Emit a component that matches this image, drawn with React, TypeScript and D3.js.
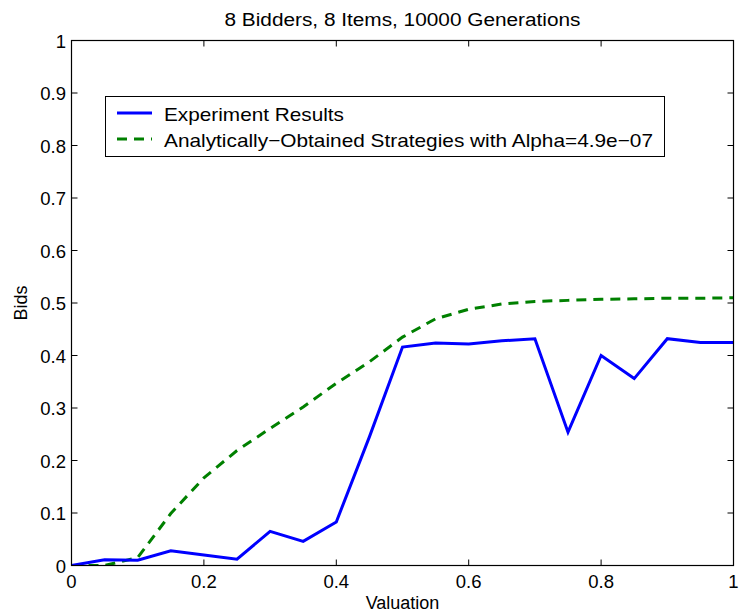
import React from "react";
import * as d3 from "d3";

const valuations = [0, 0.05, 0.1, 0.15, 0.2, 0.25, 0.3, 0.35, 0.4, 0.45, 0.5, 0.55, 0.6, 0.65, 0.7, 0.75, 0.8, 0.85, 0.9, 0.95, 1];
const experimentBids = [0, 0.011, 0.01, 0.028, 0.02, 0.012, 0.065, 0.046, 0.083, 0.245, 0.416, 0.424, 0.422, 0.428, 0.432, 0.254, 0.4, 0.356, 0.432, 0.425, 0.425];
const analyticBids = [0, 0, 0.015, 0.099, 0.167, 0.219, 0.261, 0.302, 0.347, 0.388, 0.435, 0.47, 0.488, 0.498, 0.503, 0.505, 0.507, 0.508, 0.509, 0.509, 0.51];
const xTicks = [0, 0.2, 0.4, 0.6, 0.8, 1];
const yTicks = [0, 0.1, 0.2, 0.3, 0.4, 0.5, 0.6, 0.7, 0.8, 0.9, 1];
const seriesNames = ["Experiment Results", "Analytically\u2212Obtained Strategies with Alpha=4.9e\u221207"];
const title = "8 Bidders, 8 Items, 10000 Generations";

export default function App() {
  const W = 740, H = 616;
  const L = 71.5, R = 733.5, T = 40.5, B = 565.5;
  const x = d3.scaleLinear().domain([0, 1]).range([L, R]);
  const y = d3.scaleLinear().domain([0, 1]).range([B, T]);
  const line = d3.line<[number, number]>().x(d => x(d[0])).y(d => y(d[1]));
  const blue = line(valuations.map((v, i) => [v, experimentBids[i]]));
  const green = line(valuations.map((v, i) => [v, analyticBids[i]]));
  const font = "'Liberation Sans', Arial, Helvetica, sans-serif";
  const tl = 6;
  const tickFs = 18.5;
  return (
    <svg width={W} height={H} style={{ position: "absolute", left: 0, top: 0, background: "#fff" }} fontFamily={font}>
      <rect x={0} y={0} width={W} height={H} fill="#fff" />
      <defs>
        <clipPath id="plot"><rect x={L} y={T} width={R - L} height={B - T} /></clipPath>
      </defs>
      {xTicks.map(t => (
        <g key={"x" + t}>
          <line x1={x(t)} x2={x(t)} y1={B} y2={B - tl} stroke="#000" strokeWidth={1} />
          <line x1={x(t)} x2={x(t)} y1={T} y2={T + tl} stroke="#000" strokeWidth={1} />
          <text x={x(t)} y={B + 22} textAnchor="middle" fontSize={tickFs} fill="#000">{String(t)}</text>
        </g>
      ))}
      {yTicks.map(t => (
        <g key={"y" + t}>
          <line x1={L} x2={L + tl} y1={y(t)} y2={y(t)} stroke="#000" strokeWidth={1} />
          <line x1={R} x2={R - tl} y1={y(t)} y2={y(t)} stroke="#000" strokeWidth={1} />
          <text x={L - 5.5} y={y(t) + 7} textAnchor="end" fontSize={tickFs} fill="#000">{String(t)}</text>
        </g>
      ))}
      <g clipPath="url(#plot)">
        <path d={green || ""} fill="none" stroke="#008000" strokeWidth={3} strokeDasharray="10,7" />
        <path d={blue || ""} fill="none" stroke="#0000ff" strokeWidth={3} />
      </g>
      <rect x={L} y={T} width={R - L} height={B - T} fill="none" stroke="#000" strokeWidth={1.2} />
      <text x={(L + R) / 2} y={26} textAnchor="middle" fontSize={18} textLength={356} lengthAdjust="spacingAndGlyphs" fill="#000">{title}</text>
      <text x={(L + R) / 2} y={608.5} textAnchor="middle" fontSize={18} fill="#000">Valuation</text>
      <text transform={`translate(27,${(T + B) / 2}) rotate(-90)`} textAnchor="middle" fontSize={18} fill="#000">Bids</text>
      <rect x={105.5} y={96.5} width={559} height={60} fill="#fff" stroke="#000" strokeWidth={1} />
      <line x1={117} x2={152} y1={113} y2={113} stroke="#0000ff" strokeWidth={3} />
      <line x1={117} x2={152} y1={139} y2={139} stroke="#008000" strokeWidth={3} strokeDasharray="10,7" />
      <text x={164} y={120.5} fontSize={19} textLength={180} lengthAdjust="spacingAndGlyphs" fill="#000">{seriesNames[0]}</text>
      <text x={164} y={146.5} fontSize={19} textLength={489} lengthAdjust="spacingAndGlyphs" fill="#000">{seriesNames[1]}</text>
    </svg>
  );
}
